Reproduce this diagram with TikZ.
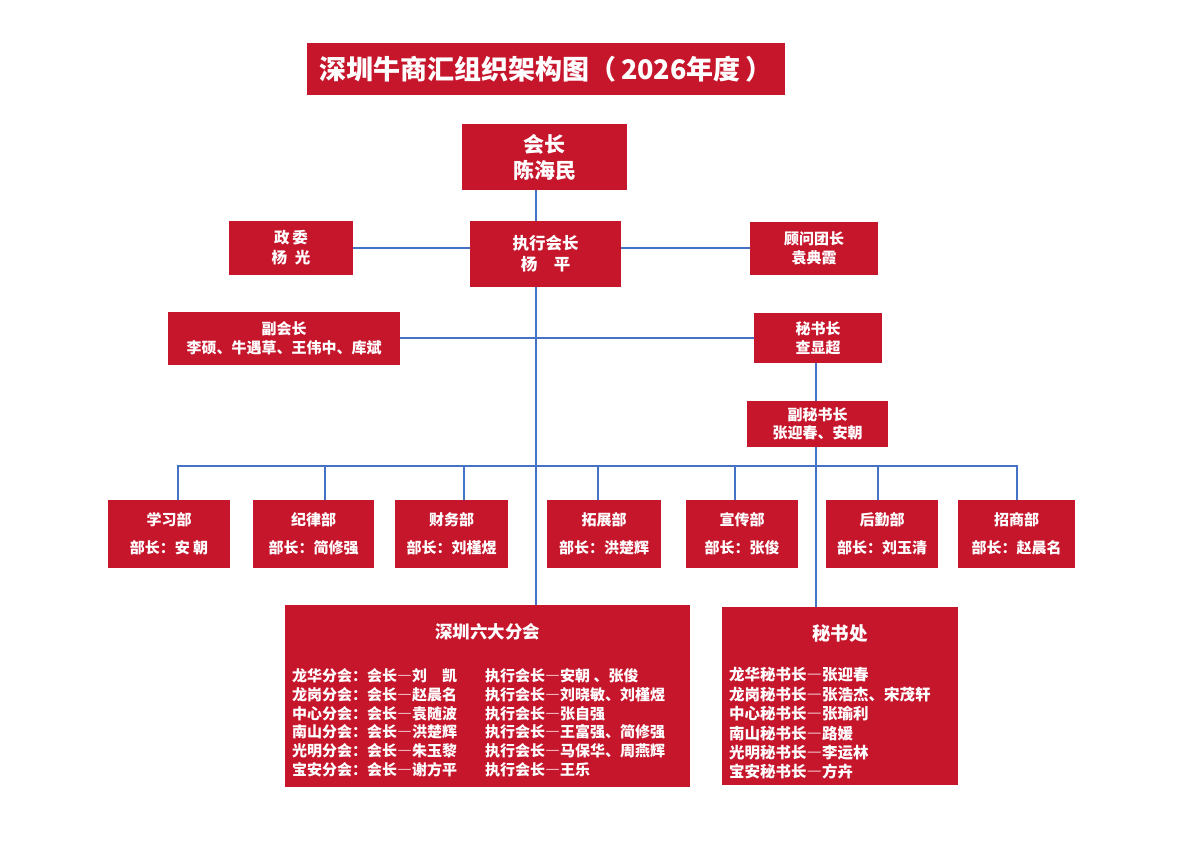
\documentclass[tikz,border=0pt]{standalone}
\usepackage{fontspec}
\setmainfont{Noto Sans CJK SC}
\newfontfamily\fwfont{Noto Sans CJK SC}[RawFeature=+fwid]
\newcommand{\dsh}{{\fwfont —}}
\definecolor{orgred}{RGB}{198,22,44}
\definecolor{lineblue}{RGB}{68,114,196}
\tikzset{
  box/.style={fill=orgred, text=white, inner sep=0pt, align=center},
  wh/.style 2 args={minimum width=#1pt, minimum height=#2pt},
  fs/.style 2 args={font=\bfseries\fontsize{#1}{#2}\selectfont},
  conn/.style={draw=lineblue, line width=2.3pt},
  txt/.style={text=white, inner sep=0pt, anchor=west},
}
\begin{document}
\begin{tikzpicture}[x=1pt,y=-1pt]
\useasboundingbox (0,0) rectangle (1200,848);
\fill[white] (0,0) rectangle (1200,848);

% title
\node[box, wh={478}{52}, fs={27}{32}] (title) at (546,69) {深圳牛商汇组织架构图（\,2026年度\,）};

% top level
\node[box, wh={165}{66}, fs={21}{26}] (pres) at (544.5,157) {会长\\陈海民};
\node[box, wh={124}{54}, fs={15.5}{20}] (zw) at (291,248) {政\,委\\杨\enspace 光};
\node[box, wh={151}{66}, fs={16.5}{21}] (exe) at (545.5,254) {执行会长\\杨\enspace\enspace 平};
\node[box, wh={128}{53}, fs={15}{19}] (gw) at (814,248) {顾问团长\\袁典霞};
\node[box, wh={232}{53}, fs={15}{19}] (fh) at (284,338) {副会长\\李硕、牛遇草、王伟中、库斌};
\node[box, wh={128}{50}, fs={15}{19}] (msz) at (818,338) {秘书长\\查显超};
\node[box, wh={141}{46}, fs={15}{18.5}] (fms) at (817.5,424) {副秘书长\\张迎春、安朝};

% departments
\node[box, wh={122}{68}, fs={15}{28}] (d1) at (169,534) {学习部\\部长：安\ 朝};
\node[box, wh={121}{68}, fs={15}{28}] (d2) at (313.5,534) {纪律部\\部长：简修强};
\node[box, wh={113}{68}, fs={15}{28}] (d3) at (451.5,534) {财务部\\部长：刘槿煜};
\node[box, wh={114}{68}, fs={15}{28}] (d4) at (604,534) {拓展部\\部长：洪楚辉};
\node[box, wh={112}{68}, fs={15}{28}] (d5) at (742,534) {宣传部\\部长：张俊};
\node[box, wh={112}{68}, fs={15}{28}] (d6) at (882,534) {后勤部\\部长：刘玉清};
\node[box, wh={117}{68}, fs={15}{28}] (d7) at (1016.5,534) {招商部\\部长：赵晨名};

% branches
\node[box, wh={405}{182}] (fen) at (487.5,696) {};
\node[text=white, inner sep=0pt, fs={17.5}{20}] (fent) at (487.5,632) {深圳六大分会};
\foreach \i/\l/\r in {1/龙华分会：会长\dsh 刘　凯/执行会长\dsh 安朝 、张俊,
                      2/龙岗分会：会长\dsh 赵晨名/执行会长\dsh 刘晓敏、刘槿煜,
                      3/中心分会：会长\dsh 袁随波/执行会长\dsh 张自强,
                      4/南山分会：会长\dsh 洪楚辉/执行会长\dsh 王富强、简修强,
                      5/光明分会：会长\dsh 朱玉黎/执行会长\dsh 马保华、周燕辉,
                      6/宝安分会：会长\dsh 谢方平/执行会长\dsh 王乐}{
  \node[txt, fs={15}{18}] (fl\i) at (292,{676+18.7*(\i-1)}) {\l};
  \node[txt, fs={15}{18}] (fr\i) at (485,{676+18.7*(\i-1)}) {\r};
}

% secretariat
\node[box, wh={236}{178}] (msb) at (840,696) {};
\node[text=white, inner sep=0pt, fs={18.5}{20}] (msbt) at (840,633) {秘书处};
\foreach \i/\l in {1/龙华秘书长\dsh 张迎春, 2/龙岗秘书长\dsh 张浩杰、宋茂轩, 3/中心秘书长\dsh 张瑜利,
                   4/南山秘书长\dsh 路媛, 5/光明秘书长\dsh 李运林, 6/宝安秘书长\dsh 方卉}{
  \node[txt, fs={15.5}{18}] (ms\i) at (729,{675+19.4*(\i-1)}) {\l};
}

% connectors
\coordinate (mx) at (536,0);
\coordinate (sx) at (816,0);
\draw[conn] (pres.south -| mx) -- (exe.north -| mx);
\draw[conn] (exe.south -| mx) -- (fen.north -| mx);
\draw[conn] (zw.east) -- (zw.east -| exe.west);
\draw[conn] (gw.west -| exe.east) -- (gw.west);
\draw[conn] (fh.east) -- (fh.east -| msz.west);
\draw[conn] (msz.south -| sx) -- (fms.north -| sx);
\draw[conn] (fms.south -| sx) -- (msb.north -| sx);

\coordinate (b1) at (178,466);
\coordinate (b2) at (325,466);
\coordinate (b3) at (464,466);
\coordinate (b4) at (598,466);
\coordinate (b5) at (735,466);
\coordinate (b6) at (878,466);
\coordinate (b7) at (1017,466);
\draw[conn] (b1 |- d1.north) -- (b1) -- (b7) -- (b7 |- d7.north);
\foreach \i in {2,...,6}{
  \draw[conn] (b\i) -- (b\i |- d\i.north);
}
\end{tikzpicture}
\end{document}
